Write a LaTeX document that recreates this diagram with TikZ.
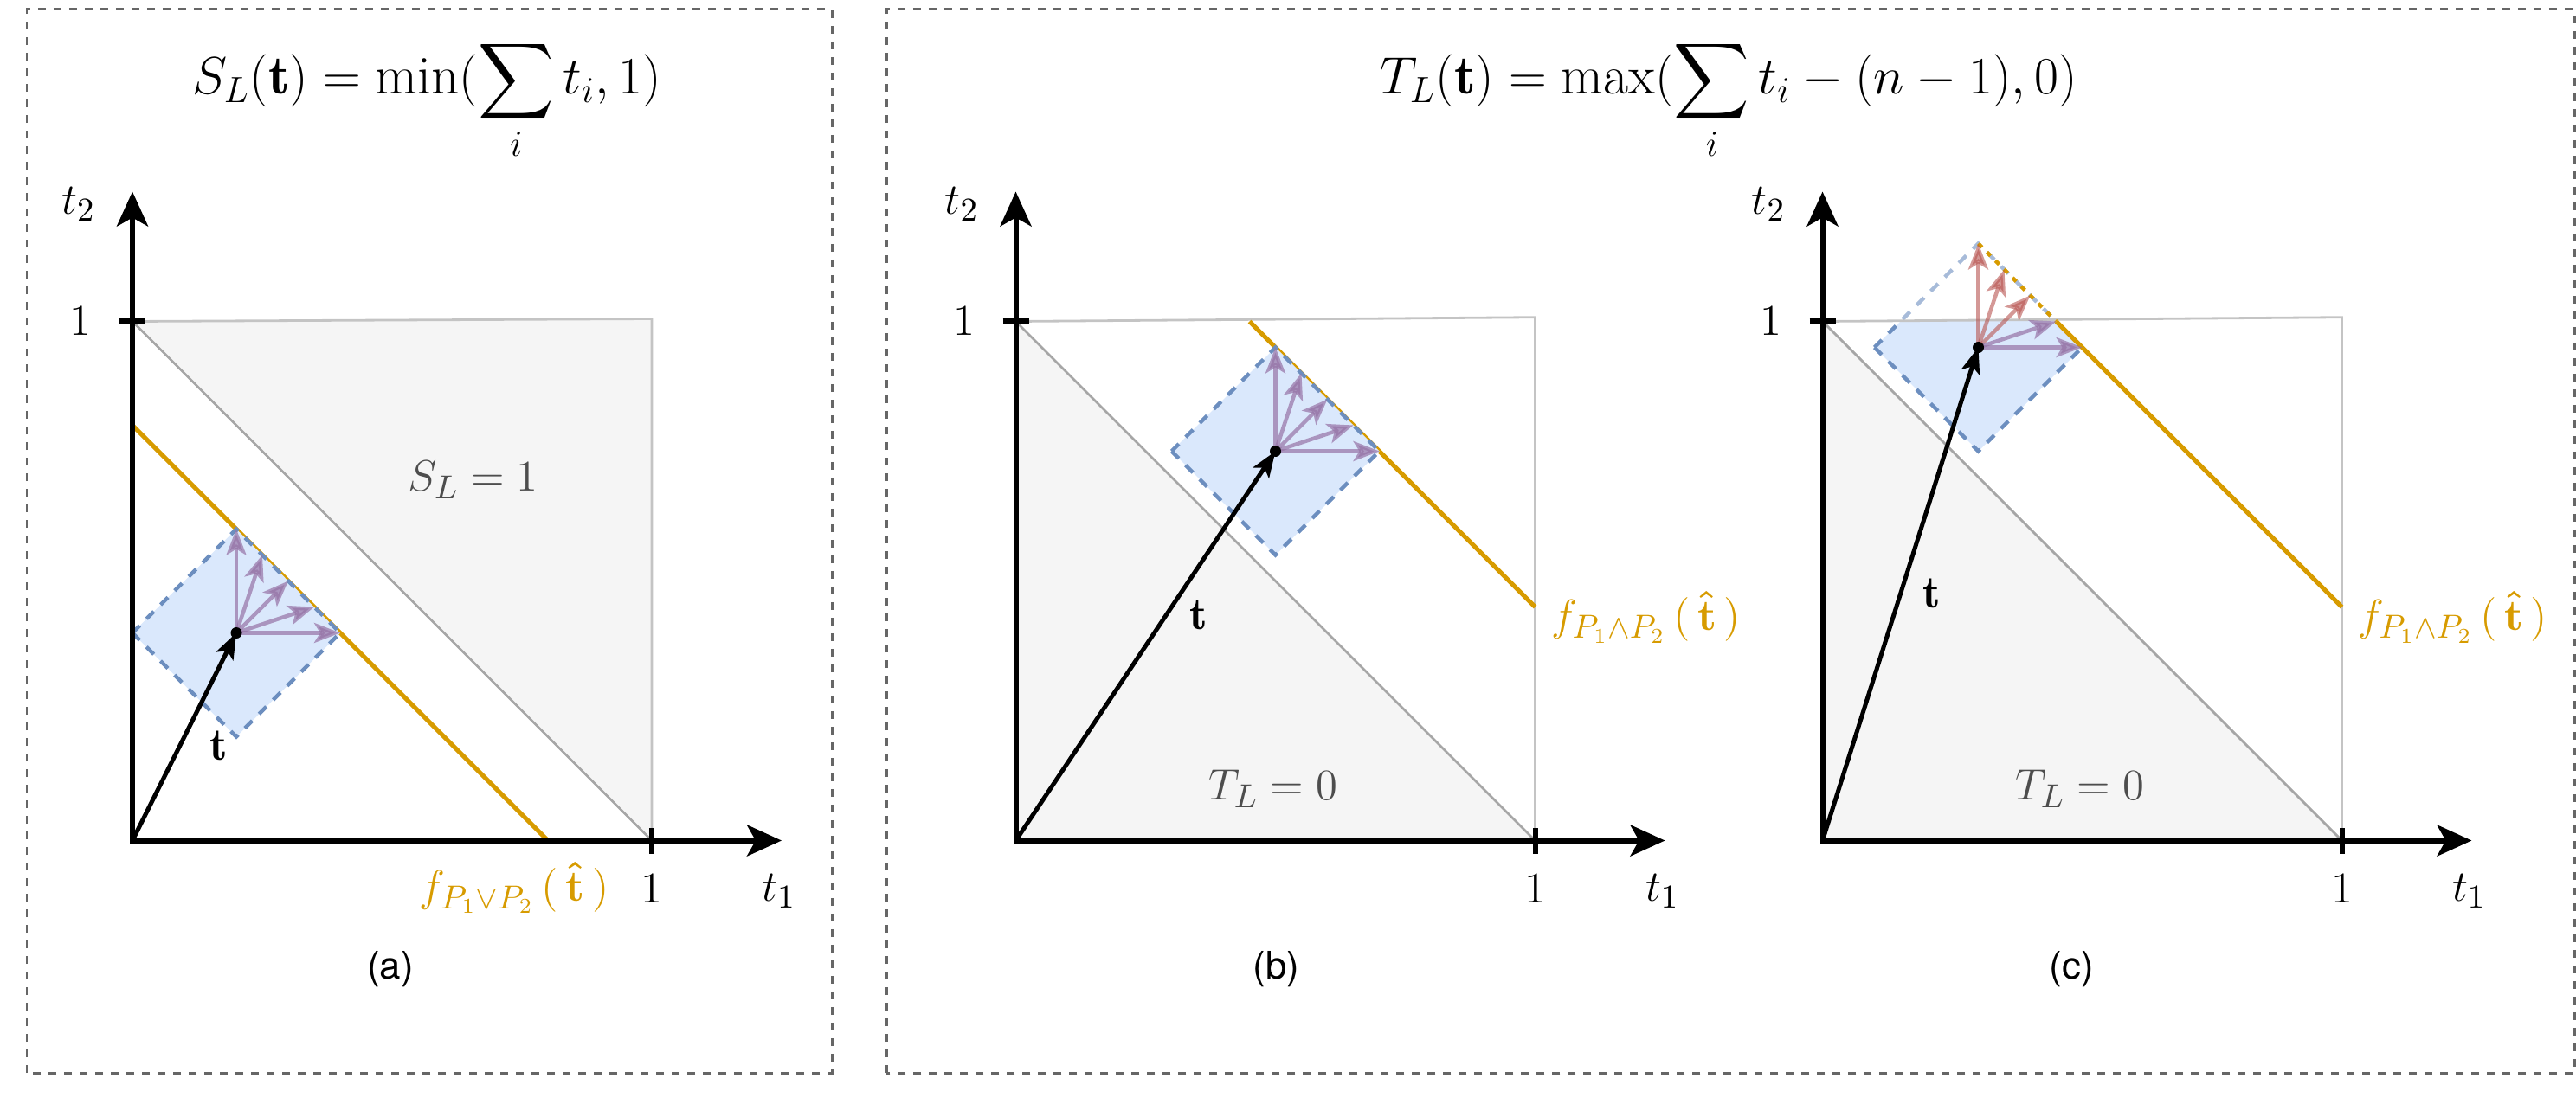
\documentclass[tikz,border=0pt]{standalone}
\usepackage{amsmath}
\usepackage{fontspec}
\newfontfamily\sflab{TeX Gyre Heros}
\usetikzlibrary{arrows.meta}
\definecolor{orng}{HTML}{D79B00}
\definecolor{bfill}{HTML}{DAE8FC}
\definecolor{bline}{HTML}{6C8EBF}
\definecolor{purp}{HTML}{9673A6}
\definecolor{redd}{HTML}{B85450}
\definecolor{gfill}{HTML}{F5F5F5}
\definecolor{gdiag}{HTML}{A6A6A6}
\definecolor{gbox}{HTML}{C4C4C4}
\definecolor{frm}{HTML}{666666}
\definecolor{gtext}{HTML}{4D4D4D}
\tikzset{
  panel/.style={draw=frm, line width=0.03cm, dash pattern=on 0.09cm off 0.09cm},
  axisline/.style={line width=0.06cm, line join=miter,
    {Stealth[length=0.4cm,width=0.36cm,inset=0.1cm]}-{Stealth[length=0.4cm,width=0.36cm,inset=0.1cm]}},
  tickln/.style={line width=0.06cm},
  lbl/.style={font=\fontsize{15}{18}\selectfont, inner sep=0pt},
  glbl/.style={lbl, text=gtext},
  olbl/.style={lbl, text=orng},
  ttl/.style={font=\fontsize{18}{21}\selectfont, inner sep=0pt},
  caplbl/.style={font=\sflab\fontsize{12.5}{15}\selectfont, inner sep=0pt},
  vecarrow/.style={line width=0.05cm, -{Stealth[length=0.3cm,width=0.22cm,inset=0.07cm]}},
  parrow/.style={draw=purp, opacity=0.7, line width=0.045cm, -{Stealth[length=0.3cm,width=0.23cm,inset=0.07cm]}},
  rarrow/.style={draw=redd, opacity=0.6, line width=0.045cm, -{Stealth[length=0.3cm,width=0.23cm,inset=0.07cm]}},
  dia/.style={fill=bfill, draw=bline, line width=0.045cm, dash pattern=on 0.12cm off 0.11cm},
  diafaint/.style={draw=bline, draw opacity=0.6, line width=0.045cm, dash pattern=on 0.12cm off 0.11cm},
  oline/.style={draw=orng, line width=0.05cm},
  odots/.style={draw=orng, line width=0.045cm, dash pattern=on 0.06cm off 0.08cm},
  boxln/.style={draw=gbox, line width=0.028cm},
  diagln/.style={draw=gdiag, line width=0.028cm},
  dotnode/.style={circle, fill=black, inner sep=0pt, minimum size=0.13cm}
}
\begin{document}
\begin{tikzpicture}
\useasboundingbox (0,0) rectangle (29.76,12.75);
% panel frames
\draw[panel] (0.31,0.35) rectangle (9.61,12.64);
\draw[panel] (10.24,0.35) rectangle (29.74,12.64);
% titles
\node[ttl, anchor=base] (ttla) at (4.93,11.66) {$\displaystyle S_L(\mathbf{t}) = \min(\sum_i t_i, 1)$};
\node[ttl, anchor=base] (ttlb) at (19.97,11.66) {$\displaystyle T_L(\mathbf{t}) = \max(\sum_i t_i - (n-1), 0)$};

% ---------------- panel (a)
\begin{scope}[shift={(1.53cm,3.035cm)}, x=6cm, y=6cm]
  \coordinate (oa) at (0,0);
  \coordinate (ya) at (0,1.25);
  \coordinate (xa) at (1.25,0);
  \fill[gfill] (0,1) -- (1,1.005) -- (1,0) -- cycle;
  \draw[boxln] (0,1) -- (1,1.005) -- (1,0);
  \draw[diagln] (0,1) -- (1,0);
  \coordinate (fa1) at (0,0.8);
  \coordinate (fa2) at (0.8,0);
  \draw[oline] (fa1) -- (fa2);
  \coordinate (ta) at (0.2,0.4);
  \draw[dia] (0,0.4) -- (0.2,0.6) -- (0.4,0.4) -- (0.2,0.2) -- cycle;
  \coordinate (pa1) at (0.2,0.6);
  \coordinate (pa2) at (0.25,0.55);
  \coordinate (pa3) at (0.3,0.5);
  \coordinate (pa4) at (0.35,0.45);
  \coordinate (pa5) at (0.4,0.4);
  \foreach \k in {1,...,5} {\draw[parrow] (ta) -- (pa\k);}
  \draw[vecarrow] (oa) -- (ta);
  \node[dotnode] (da) at (ta) {};
  \draw[axisline] (ya) -- (oa) -- (xa);
  \draw[tickln] (-0.025,1) -- (0.025,1);
  \draw[tickln] (1,-0.025) -- (1,0.025);
  \node[lbl] (y1a) at (-0.1,1) {$1$};
  \node[lbl] (x1a) at (1,-0.093) {$1$};
  \node[lbl] (t1a) at (1.245,-0.097) {$t_1$};
  \node[lbl] (t2a) at (-0.104,1.226) {$t_2$};
  \node[lbl] (tla) at (0.167,0.183) {$\mathbf{t}$};
  \node[glbl] (sla) at (0.656,0.695) {$S_L = 1$};
  \node[olbl] (fla) at (0.735,-0.091) {$f_{P_1\vee P_2}\,(\,\boldsymbol{\hat{\mathbf{t}}}\,)$};
  \node[caplbl] (capa) at (0.497,-0.247) {(a)};
\end{scope}

% ---------------- panel (b)
\begin{scope}[shift={(11.735cm,3.035cm)}, x=6cm, y=6cm]
  \coordinate (ob) at (0,0);
  \coordinate (yb) at (0,1.25);
  \coordinate (xb) at (1.25,0);
  \fill[gfill] (0,0) -- (0,1) -- (1,0) -- cycle;
  \draw[boxln] (0,1) -- (1,1.008) -- (1,0);
  \draw[diagln] (0,1) -- (1,0);
  \coordinate (fb1) at (0.45,1.0);
  \coordinate (fb2) at (1.0,0.45);
  \draw[oline] (fb1) -- (fb2);
  \coordinate (tb) at (0.5,0.75);
  \draw[dia] (0.3,0.75) -- (0.5,0.95) -- (0.7,0.75) -- (0.5,0.55) -- cycle;
  \coordinate (pb1) at (0.5,0.95);
  \coordinate (pb2) at (0.55,0.9);
  \coordinate (pb3) at (0.6,0.85);
  \coordinate (pb4) at (0.65,0.8);
  \coordinate (pb5) at (0.7,0.75);
  \foreach \k in {1,...,5} {\draw[parrow] (tb) -- (pb\k);}
  \draw[vecarrow] (ob) -- (tb);
  \node[dotnode] (db) at (tb) {};
  \draw[axisline] (yb) -- (ob) -- (xb);
  \draw[tickln] (-0.025,1) -- (0.025,1);
  \draw[tickln] (1,-0.025) -- (1,0.025);
  \node[lbl] (y1b) at (-0.1,1) {$1$};
  \node[lbl] (x1b) at (1,-0.093) {$1$};
  \node[lbl] (t1b) at (1.245,-0.097) {$t_1$};
  \node[lbl] (t2b) at (-0.104,1.226) {$t_2$};
  \node[lbl] (tlb) at (0.352,0.434) {$\mathbf{t}$};
  \node[glbl] (tlzb) at (0.496,0.10) {$T_L = 0$};
  \node[olbl, anchor=west] (flb) at (1.03,0.43) {$f_{P_1\wedge P_2}\,(\,\boldsymbol{\hat{\mathbf{t}}}\,)$};
  \node[caplbl] (capb) at (0.502,-0.247) {(b)};
\end{scope}

% ---------------- panel (c)
\begin{scope}[shift={(21.055cm,3.035cm)}, x=6cm, y=6cm]
  \coordinate (oc) at (0,0);
  \coordinate (yc) at (0,1.25);
  \coordinate (xc) at (1.25,0);
  \fill[gfill] (0,0) -- (0,1) -- (1,0) -- cycle;
  \draw[diagln] (0,1) -- (1,0);
  \coordinate (tc) at (0.3,0.95);
  \begin{scope}
    \clip (-0.2,-0.2) rectangle (1.3,1.0);
    \draw[dia] (0.1,0.95) -- (0.3,1.15) -- (0.5,0.95) -- (0.3,0.75) -- cycle;
  \end{scope}
  \begin{scope}
    \clip (-0.2,1.0) rectangle (1.3,1.3);
    \draw[diafaint] (0.1,0.95) -- (0.3,1.15) -- (0.5,0.95) -- (0.3,0.75) -- cycle;
  \end{scope}
  \draw[boxln] (0,1) -- (1,1.008) -- (1,0);
  \coordinate (fc0) at (0.3,1.15);
  \coordinate (fc1) at (0.45,1.0);
  \coordinate (fc2) at (1.0,0.45);
  \draw[odots] (fc0) -- (fc1);
  \draw[oline] (fc1) -- (fc2);
  \coordinate (pc1) at (0.3,1.15);
  \coordinate (pc2) at (0.35,1.1);
  \coordinate (pc3) at (0.4,1.05);
  \coordinate (pc4) at (0.45,1.0);
  \coordinate (pc5) at (0.5,0.95);
  \foreach \k in {1,2,3} {\draw[rarrow] (tc) -- (pc\k);}
  \foreach \k in {4,5} {\draw[parrow] (tc) -- (pc\k);}
  \draw[vecarrow] (oc) -- (tc);
  \node[dotnode] (dc) at (tc) {};
  \draw[axisline] (yc) -- (oc) -- (xc);
  \draw[tickln] (-0.025,1) -- (0.025,1);
  \draw[tickln] (1,-0.025) -- (1,0.025);
  \node[lbl] (y1c) at (-0.1,1) {$1$};
  \node[lbl] (x1c) at (1,-0.093) {$1$};
  \node[lbl] (t1c) at (1.245,-0.097) {$t_1$};
  \node[lbl] (t2c) at (-0.104,1.226) {$t_2$};
  \node[lbl] (tlc) at (0.21,0.476) {$\mathbf{t}$};
  \node[glbl] (tlzc) at (0.496,0.10) {$T_L = 0$};
  \node[olbl, anchor=west] (flc) at (1.03,0.43) {$f_{P_1\wedge P_2}\,(\,\boldsymbol{\hat{\mathbf{t}}}\,)$};
  \node[caplbl] (capc) at (0.48,-0.247) {(c)};
\end{scope}
\end{tikzpicture}
\end{document}
